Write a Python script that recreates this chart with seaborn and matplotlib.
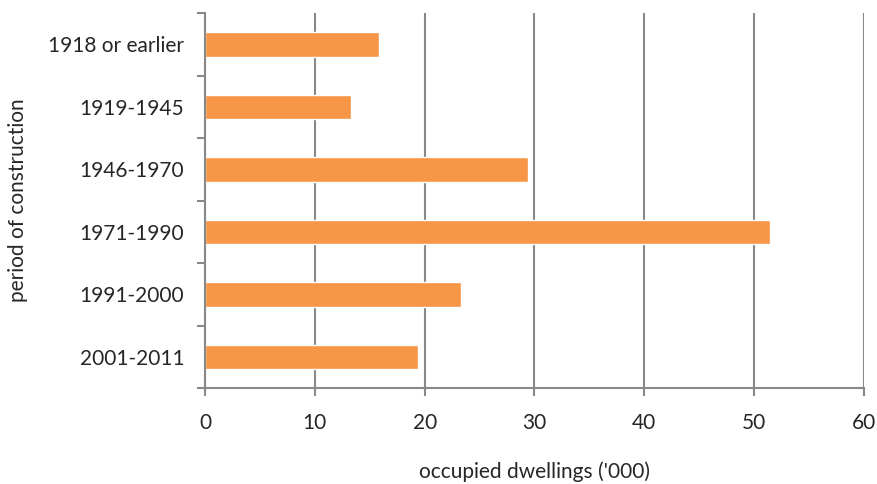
import numpy as np
import pandas as pd
import matplotlib
matplotlib.use('Agg')
import matplotlib.pyplot as plt
import seaborn as sns

# values
periods = ['1918 or earlier', '1919-1945', '1946-1970', '1971-1990', '1991-2000', '2001-2011']
dwellings = [15.8, 13.3, 29.4, 51.4, 23.3, 19.4]

df = pd.DataFrame({'period': periods, 'dwellings': dwellings})

sns.set_style('white')
plt.rcParams['font.family'] = ['Lato', 'DejaVu Sans']

grey = '#888888'
fs = 15
fig, ax = plt.subplots(figsize=(8.78, 4.84), dpi=100)
fig.subplots_adjust(left=0.2335, right=0.984, top=0.973, bottom=0.198)

sns.barplot(data=df, x='dwellings', y='period', orient='h', color='#F79646',
            width=0.39, saturation=1, ax=ax)

ax.set_xlim(0, 60)
ax.set_ylim(5.5, -0.5)
ax.set_xticks(np.arange(0, 61, 10))
ax.xaxis.grid(True, color=grey, linewidth=1.5)
ax.set_axisbelow(True)

# category separator ticks on the y axis
ax.set_yticks(np.arange(-0.5, 6, 1), minor=True)
ax.tick_params(axis='y', which='major', left=True, length=0, pad=15, labelsize=fs)
ax.tick_params(axis='y', which='minor', left=True, length=6, width=1.5, color=grey,
               direction='out')
ax.tick_params(axis='x', which='major', bottom=True, length=6, width=1.5, color=grey,
               direction='out', pad=12, labelsize=fs)

for side in ['top', 'right']:
    ax.spines[side].set_visible(False)
for side in ['left', 'bottom']:
    ax.spines[side].set_color(grey)
    ax.spines[side].set_linewidth(1.5)

ax.set_xlabel("occupied dwellings ('000)", fontsize=fs)
ax.set_ylabel('period of construction', fontsize=fs)
ax.xaxis.set_label_coords(0.5, -0.195)
ax.yaxis.set_label_coords(-0.268, 0.5)

plt.savefig('out.png', dpi=100)
